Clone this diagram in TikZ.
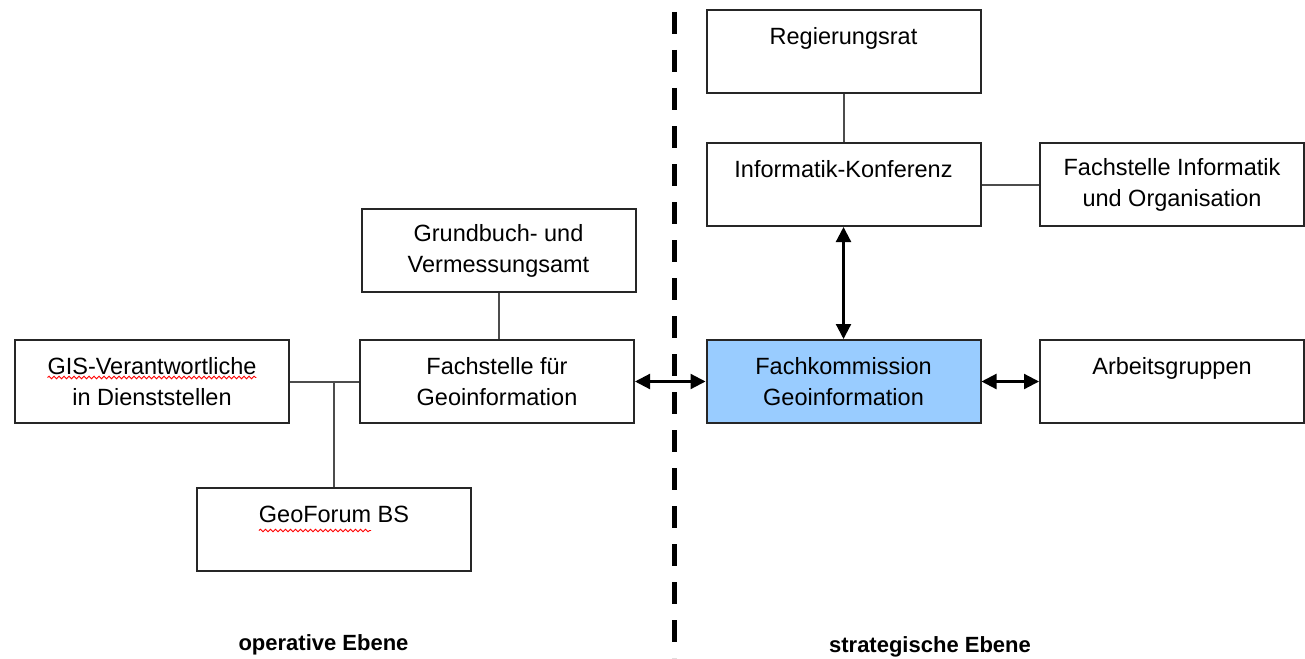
\documentclass[tikz,border=0pt]{standalone}
\usepackage{fontspec}
\setmainfont{Liberation Sans}
\usepackage{tikz}
\usepackage{xcolor}
\usetikzlibrary{arrows.meta,positioning,calc,decorations.pathmorphing}
\definecolor{boxblue}{HTML}{99CCFF}
\newcommand{\boxfont}{\fontsize{23.5}{31}\selectfont}
\newlength{\gisw}
\newlength{\lnw}
\newlength{\geow}

\begin{document}
\settowidth{\gisw}{\boxfont GIS-Verantwortliche}
\settowidth{\lnw}{\boxfont GeoForum BS}
\settowidth{\geow}{\boxfont GeoForum}
\begin{tikzpicture}[x=1pt,y=-1pt,
  box/.style={rectangle, draw=black!85, line width=2pt, minimum width=274pt, minimum height=83pt, align=center, font=\boxfont},
  conn/.style={draw=black!70, line width=2pt},
  dbl/.style={line width=2.2pt, {Triangle[length=15pt,width=15pt]}-{Triangle[length=15pt,width=15pt]}},
  spell/.style={draw=red, line width=0.9pt, decorate, decoration={snake, segment length=5pt, amplitude=1.3pt}},
  lvl/.style={font=\fontsize{22}{26}\selectfont\bfseries, anchor=base}]
\useasboundingbox (0,0) rectangle (1305,658);
\draw[line width=5pt, dash pattern=on 22pt off 16pt] (674,12) -- (674,658);

\node[box] (reg) at (843.5,51.5) {Regierungsrat\\\mbox{}};
\node[box] (ikon) at (843.5,184.5) {Informatik-Konferenz\\\mbox{}};
\node[box, minimum width=264pt] (fio) at (1172,184.5) {Fachstelle Informatik\\und Organisation};
\node[box] (grund) at (498.5,250.5) {Grundbuch- und\\Vermessungsamt};
\node[box] (gis) at (152,381.5) {GIS-Verantwortliche\\in Dienststellen};
\node[box] (fgeo) at (497,381.5) {Fachstelle für\\Geoinformation};
\node[box] (forum) at (334,529.5) {GeoForum BS\\\mbox{}};
\node[box, fill=boxblue] (fkom) at (843.5,381.5) {Fachkommission\\Geoinformation};
\node[box, minimum width=264pt] (arb) at (1172,381.5) {Arbeitsgruppen\\\mbox{}};
\coordinate (jct) at (forum.north |- gis.east);

\draw[conn] (reg) -- (ikon);
\draw[conn] (ikon) -- (fio);
\draw[conn] (grund.south) -- (grund.south |- fgeo.north);
\draw[conn] (gis) -- (fgeo);
\draw[conn] (forum) -- (jct);
\draw[dbl] (fkom) -- (ikon);
\draw[dbl] (fgeo) -- (fkom);
\draw[dbl] (fkom) -- (arb);

\coordinate (gisL) at ([xshift=-0.5\gisw, yshift=4pt]gis.center);
\coordinate (gisR) at ([xshift=0.5\gisw, yshift=4pt]gis.center);
\coordinate (geoL) at ([xshift=-0.5\lnw, yshift=-1pt]forum.center);
\coordinate (geoR) at ([xshift=\geow]geoL);
\draw[spell] (gisL) -- (gisR);
\draw[spell] (geoL) -- (geoR);

\node[lvl] (oper) at (323.5,650) {operative Ebene};
\node[lvl] (strat) at (930,652) {strategische Ebene};
\end{tikzpicture}
\end{document}
